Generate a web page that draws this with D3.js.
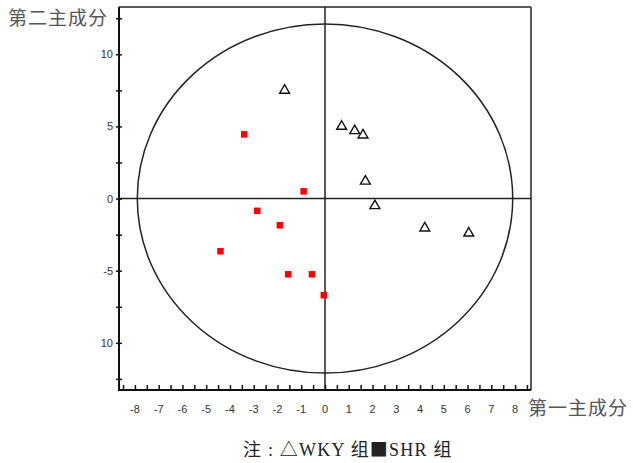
<!DOCTYPE html>
<html><head><meta charset="utf-8">
<script src="https://cdn.jsdelivr.net/npm/d3@7"></script>
<style>body{margin:0;background:#fff}svg{display:block}</style>
</head><body>
<svg id="c" width="633" height="463"></svg>
<script>
const wkyX = [-1.7, 0.7, 1.25, 1.6, 1.7, 2.1, 4.2, 6.05];
const wkyY = [7.5, 5.0, 4.7, 4.4, 1.2, -0.5, -2.05, -2.4];
const shrX = [-3.4, -0.9, -2.85, -1.9, -4.4, -1.55, -0.55, -0.05];
const shrY = [4.45, 0.5, -0.85, -1.85, -3.65, -5.25, -5.25, -6.7];
const xTickLabels = [-8,-7,-6,-5,-4,-3,-2,-1,0,1,2,3,4,5,6,7,8];
const yTickValues = [-10, -5, 0, 5, 10];
const yTickText = ["10", "-5", "0", "5", "10"];
const ellipseR = [7.9, 12.1];

const svg = d3.select("#c");
const x = d3.scaleLinear().domain([-8.67, 8.67]).range([119, 531]);
const y = d3.scaleLinear().domain([-13.27, 13.28]).range([390, 7]);

// frame
svg.append("line").attr("x1",119).attr("x2",531).attr("y1",7).attr("y2",7).attr("stroke","#222").attr("stroke-width",1.5);
svg.append("line").attr("x1",531).attr("x2",531).attr("y1",7).attr("y2",390).attr("stroke","#222").attr("stroke-width",1.5);

// crosshair
svg.append("line").attr("x1",119).attr("x2",531).attr("y1",y(0)).attr("y2",y(0)).attr("stroke","#222").attr("stroke-width",1.5);
svg.append("line").attr("x1",x(0)).attr("x2",x(0)).attr("y1",7).attr("y2",390).attr("stroke","#222").attr("stroke-width",1.5);

// ellipse
svg.append("ellipse").attr("cx",x(0)).attr("cy",y(0))
  .attr("rx",x(ellipseR[0])-x(0)).attr("ry",y(0)-y(ellipseR[1]))
  .attr("fill","none").attr("stroke","#222").attr("stroke-width",1.5);

// x axis
const xMinor = d3.range(-8.5, 8.51, 0.5);
const xAxis = d3.axisTop(x).tickValues(xMinor).tickSize(5).tickFormat("");
const gx = svg.append("g").attr("transform","translate(0,390)").call(xAxis);
gx.select(".domain").remove();
gx.selectAll(".tick line").attr("stroke","#111").attr("stroke-width",1.5).attr("y1",1);
svg.append("line").attr("x1",118).attr("x2",531).attr("y1",390).attr("y2",390).attr("stroke","#111").attr("stroke-width",2);
svg.selectAll(".xl").data(xTickLabels).enter().append("text")
  .attr("x",d=>x(d)).attr("y",413).attr("text-anchor","middle")
  .attr("font-family","Liberation Sans, Arial, sans-serif").attr("font-size",11).attr("fill","#333")
  .text(d=>d);

// y axis
const yMinor = d3.range(-12.5, 12.51, 2.5);
const yAxis = d3.axisLeft(y).tickValues(yMinor).tickSize(3).tickFormat("");
const gy = svg.append("g").attr("transform","translate(119,0)").call(yAxis);
gy.select(".domain").remove();
gy.selectAll(".tick line").attr("stroke","#111").attr("stroke-width",1.5).attr("x2",-3).attr("x1",3);
svg.append("line").attr("x1",119).attr("x2",119).attr("y1",7).attr("y2",391).attr("stroke","#111").attr("stroke-width",2);
svg.selectAll(".yl").data(yTickValues).enter().append("text")
  .attr("x",113).attr("y",d=>y(d)+4).attr("text-anchor","end")
  .attr("font-family","Liberation Sans, Arial, sans-serif").attr("font-size",11).attr("fill","#333")
  .text((d,i)=>yTickText[i]);

// SHR squares
const s = 6.5;
svg.selectAll(".sq").data(shrX.map((v,i)=>[v,shrY[i]])).enter().append("rect")
  .attr("x",d=>x(d[0])-s/2).attr("y",d=>y(d[1])-s/2).attr("width",s).attr("height",s)
  .attr("fill","#ff0000");

// WKY triangles
const tri = d3.symbol().type(d3.symbolTriangle).size(42);
svg.selectAll(".tr").data(wkyX.map((v,i)=>[v,wkyY[i]])).enter().append("path")
  .attr("d",tri).attr("transform",d=>`translate(${x(d[0])},${y(d[1])})`)
  .attr("fill","none").attr("stroke","#111").attr("stroke-width",1.4);

// titles
const cjk = "Liberation Serif, 'Noto Sans CJK SC', serif";
const cjkOnly = "'Noto Sans CJK SC', sans-serif";
svg.append("text").attr("x",8).attr("y",25).attr("font-family",cjk).attr("font-size",19)
  .attr("letter-spacing",1).attr("fill","#555").text("第二主成分");
svg.append("text").attr("x",528).attr("y",415).attr("font-family",cjk).attr("font-size",19)
  .attr("letter-spacing",1).attr("fill","#555").text("第一主成分");

const cap = svg.append("text").attr("x",243).attr("y",456).attr("font-family","Liberation Serif, serif")
  .attr("font-size",18).attr("letter-spacing",1.2).attr("fill","#222");
const parts = [
  ["注", cjkOnly], [" : ", "Liberation Serif, serif"], ["△", cjkOnly], ["WKY ", "Liberation Serif, serif"],
  ["组", cjkOnly], ["■", cjkOnly], ["SHR ", "Liberation Serif, serif"], ["组", cjkOnly]
];
parts.forEach(p => cap.append("tspan").attr("font-family", p[1]).style("white-space","pre").text(p[0]));
</script>
</body></html>
